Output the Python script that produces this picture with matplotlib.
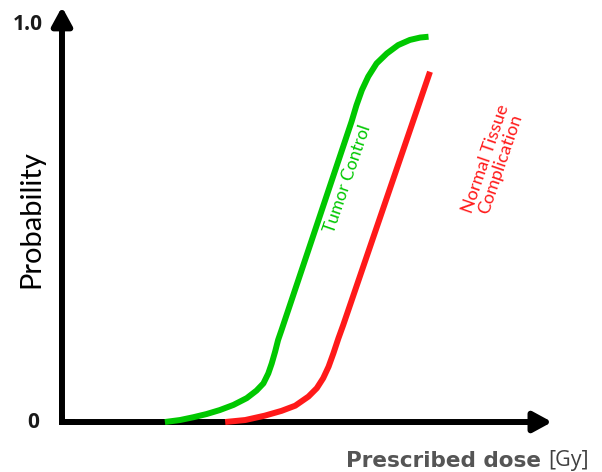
import matplotlib
matplotlib.use("Agg")
import matplotlib.pyplot as plt
from matplotlib.patches import ArrowStyle

# Dose-response curves (dose in Gy, probability 0..1)
tumor_dose = [21.0, 24.1, 26.8, 29.5, 32.2, 35.0, 37.7, 39.7, 41.1, 42.1, 42.8, 43.5,
              44.1, 44.8, 59.1, 60.1, 61.2, 62.5, 64.2, 66.3, 68.6, 71.0, 73.1, 74.8]
tumor_prob = [0.0, 0.005, 0.012, 0.020, 0.030, 0.043, 0.060, 0.079, 0.097, 0.122, 0.147, 0.177,
              0.206, 0.231, 0.755, 0.796, 0.834, 0.868, 0.901, 0.926, 0.947, 0.960, 0.966, 0.968]

ntcp_dose = [33.3, 37.4, 41.4, 44.8, 47.6, 50.3, 52.0, 53.3, 54.4, 55.4, 56.4, 57.4, 75.1]
ntcp_prob = [0.0, 0.005, 0.016, 0.028, 0.041, 0.064, 0.085, 0.110, 0.139, 0.173, 0.210, 0.244, 0.880]

y_ticks = [0, 1.0]
y_tick_labels = ["0", "1.0"]

green = "#00c800"
red = "#ff1a1a"

fig = plt.figure(figsize=(6.02, 4.72), dpi=100)
ax = fig.add_axes([0, 0, 1, 1])
ax.set_xlim(-12.65, 110.2)
ax.set_ylim(-0.1256, 1.0603)
ax.axis("off")

# axes drawn as thick arrows
style = ArrowStyle("-|>", head_length=1.1, head_width=0.6)
for tip in [(0, 1.043), (100, 0)]:
    ax.annotate("", xy=tip, xytext=(0, 0),
                arrowprops=dict(arrowstyle=style, mutation_scale=10, color="black",
                                lw=4.3, shrinkA=0, shrinkB=0))
ax.plot([0, 0, 2], [0.01, 0, 0], color="black", lw=4.3, solid_joinstyle="miter",
        solid_capstyle="projecting")

# curves
ax.plot(ntcp_dose, ntcp_prob, color=red, lw=4.3, solid_capstyle="butt",
        solid_joinstyle="round", zorder=5)
ax.plot(tumor_dose, tumor_prob, color=green, lw=4.3, solid_capstyle="butt",
        solid_joinstyle="round", zorder=6)

# tick labels
ax.text(-7.0, y_ticks[1], y_tick_labels[1], ha="center", va="center",
        fontsize=15, fontweight="bold", family="Open Sans", color="#1a1a1a")
ax.text(-5.8, y_ticks[0], y_tick_labels[0], ha="center", va="center",
        fontsize=15, fontweight="bold", family="Open Sans", color="#1a1a1a")

ax.text(-6.2, 0.51, "Probability", rotation=90, ha="center", va="center",
        fontsize=21, family="Lato", color="black")

ax.text(99.2, -0.097, "Prescribed dose ", ha="right", va="center",
        fontsize=15.5, fontweight="bold", family="DejaVu Sans", color="#555555")
ax.text(99.2, -0.097, "[Gy]", ha="left", va="center",
        fontsize=15.5, family="Open Sans", color="#404040")

ax.text(58.2, 0.61, "Tumor Control", rotation=71, ha="center", va="center",
        fontsize=12.5, family="Lato", color=green)
ax.text(88.0, 0.655, "Normal Tissue\nComplication", rotation=71, ha="center", va="center",
        fontsize=13, family="Lato", color=red, linespacing=1.0)

fig.savefig("out.png", dpi=100)
